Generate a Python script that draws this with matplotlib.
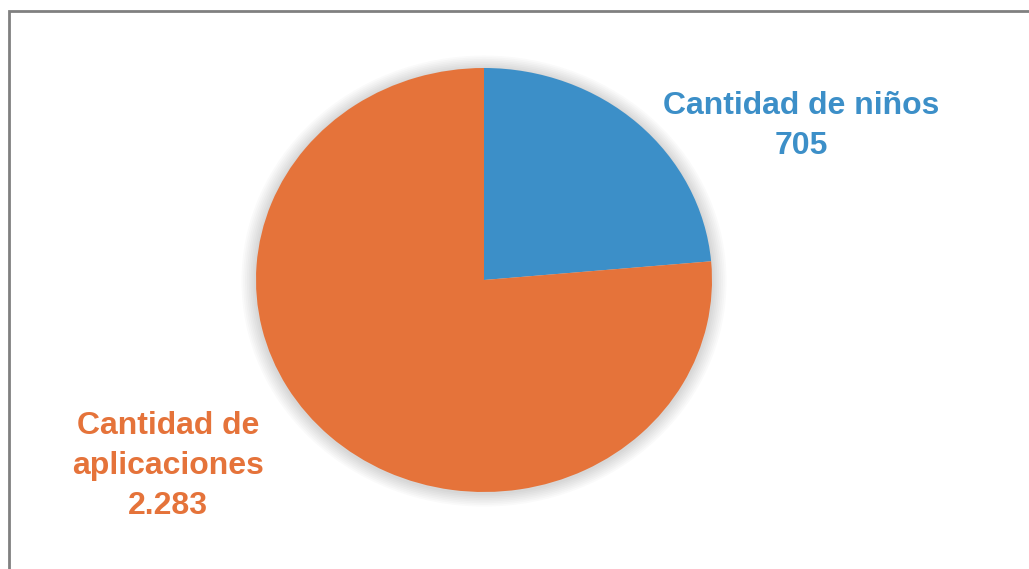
import matplotlib.pyplot as plt
from matplotlib.patches import Ellipse, Rectangle

labels = ['Cantidad de niños', 'Cantidad de\naplicaciones']
values = [705, 2283]
colors = ['#3C8FC8', '#E5733A']

W, H = 1029, 569
fig = plt.figure(figsize=(W / 100, H / 100), dpi=100)
fig.patch.set_facecolor('white')

# marco gris (solo lados izquierdo y superior visibles)
fig.add_artist(Rectangle((9 / W, -0.1), 1.2, (H - 11) / H + 0.1,
                         transform=fig.transFigure, fill=False,
                         edgecolor='#808080', linewidth=2))

# pie elíptico: cuadro en píxeles
x0, x1, y0, y1 = 256, 712, 68, 492
ax = fig.add_axes([x0 / W, (H - y1) / H, (x1 - x0) / W, (y1 - y0) / H])

# sombra difusa
for i in range(8):
    r = 1.0 + 0.008 * (i + 1)
    ax.add_patch(Ellipse((0, -0.005), 2 * r, 2 * r, facecolor='#000000',
                         alpha=0.018, edgecolor='none', zorder=0, clip_on=False))

ax.pie(values, colors=colors, startangle=90, counterclock=False,
       wedgeprops=dict(linewidth=0, zorder=2))
ax.set_aspect('auto')
ax.set_xlim(-1, 1)
ax.set_ylim(-1, 1)
ax.axis('off')

font = dict(family='Liberation Sans', fontweight='bold', fontsize=23,
            ha='center', va='center', linespacing=1.45)
fig.text(801 / W, 1 - 126 / H, labels[0] + '\n' + f'{values[0]:,}'.replace(',', '.'),
         color=colors[0], **font)
fig.text(168 / W, 1 - 466 / H, labels[1] + '\n' + f'{values[1]:,}'.replace(',', '.'),
         color=colors[1], **font)

fig.savefig('out.png', dpi=100)
